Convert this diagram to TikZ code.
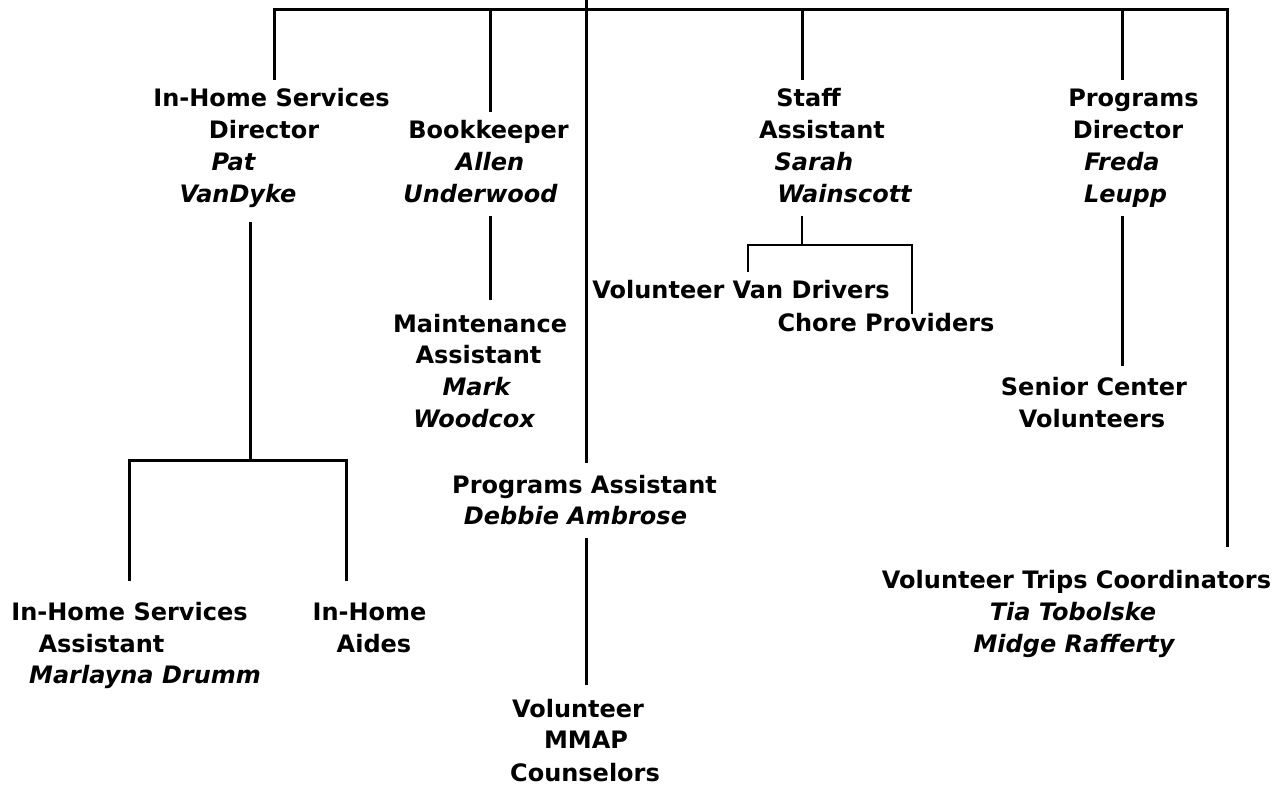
\documentclass[tikz,border=0pt]{standalone}
\usepackage{fontspec}
\setmainfont{DejaVu Sans}
\usepackage{tikz}

\tikzset{
	lbl/.style={anchor=base, font=\fontsize{18pt}{22pt}\selectfont\bfseries, text height=13.6pt, text depth=4.3pt, inner xsep=0pt, inner ysep=6pt},
	who/.style={lbl, font=\fontsize{18pt}{22pt}\selectfont\bfseries\itshape},
	link/.style={line width=2.25pt},
	thin link/.style={line width=1.1pt}
}

\begin{document}
\begin{tikzpicture}[x=0.75pt, y=-0.75pt]
	\useasboundingbox (0,0) rectangle (1276,786);

	\coordinate (jA) at (274,9);
	\coordinate (jB) at (490,9);
	\coordinate (ctr) at (586,0);
	\coordinate (jD) at (802,9);
	\coordinate (jE) at (1122,9);
	\coordinate (jR) at (1227,9);
	\coordinate (ihsM) at (250,460);
	\coordinate (ihsR) at (346,460);
	\coordinate (staffM) at (802,245);
	\coordinate (staffL) at (748,245);
	\coordinate (staffR) at (912,245);

	\node[lbl] (ihd1) at (271.5,106) {In-Home Services};
	\node[lbl] (ihd2) at (264,138) {Director};
	\node[who] (ihd3) at (233.5,170) {Pat};
	\node[who, outer ysep=5pt] (ihd4) at (238,202) {VanDyke};

	\node[lbl] (bk1) at (488.5,138) {Bookkeeper};
	\node[who] (bk2) at (490,170) {Allen};
	\node[who] (bk3) at (480.5,202) {Underwood};

	\node[lbl] (sa1) at (808.5,106) {Staff};
	\node[lbl] (sa2) at (822,138) {Assistant};
	\node[who] (sa3) at (814,170) {Sarah};
	\node[who] (sa4) at (844.5,202) {Wainscott};

	\node[lbl] (pd1) at (1133.5,106) {Programs};
	\node[lbl] (pd2) at (1128,138) {Director};
	\node[who] (pd3) at (1122,170) {Freda};
	\node[who] (pd4) at (1125.5,202) {Leupp};

	\node[lbl, outer ysep=4.5pt] (ma1) at (480,332) {Maintenance};
	\node[lbl] (ma2) at (478.5,363) {Assistant};
	\node[who] (ma3) at (476.5,395) {Mark};
	\node[who] (ma4) at (474,427) {Woodcox};

	\node[lbl] (vvd) at (741,298) {Volunteer Van Drivers};
	\node[lbl, outer ysep=-7pt] (chp) at (886,331) {Chore Providers};

	\node[lbl, outer ysep=2pt] (sc1) at (1094,395) {Senior Center};
	\node[lbl] (sc2) at (1092,427) {Volunteers};

	\node[lbl, outer ysep=3pt] (pa1) at (584.5,493) {Programs Assistant};
	\node[who] (pa2) at (575.5,524) {Debbie Ambrose};

	\node[lbl, outer ysep=4.5pt] (mm1) at (578,717) {Volunteer};
	\node[lbl] (mm2) at (586,748) {MMAP};
	\node[lbl] (mm3) at (585,781) {Counselors};

	\node[lbl, outer ysep=10pt] (ihsa1) at (129.5,620) {In-Home Services};
	\node[lbl] (ihsa2) at (101.5,652) {Assistant};
	\node[who] (ihsa3) at (145,683) {Marlayna Drumm};

	\node[lbl, outer ysep=10pt] (aid1) at (369.5,620) {In-Home};
	\node[lbl] (aid2) at (374,652) {Aides};

	\node[lbl, outer ysep=11pt] (vtc1) at (1076.5,588) {Volunteer Trips Coordinators};
	\node[who] (vtc2) at (1073,620) {Tia Tobolske};
	\node[who] (vtc3) at (1074,652) {Midge Rafferty};

	\draw[link] (jA |- ihd1.north) -- (jA) -- (jR) -- (jR |- vtc1.north);
	\draw[link] (jB) -- (jB |- bk1.north);
	\draw[link] (jD) -- (jD |- sa1.north);
	\draw[link] (jE) -- (jE |- pd1.north);
	\draw[link] (ctr) -- (ctr |- pa1.north);

	\draw[link] (ihd4.south -| ihsM) -- (ihsM);
	\draw[link] (ihsa1.north) |- (ihsR) -- (ihsR |- aid1.north);
	\draw[link] (bk3.south -| jB) -- (jB |- ma1.north);
	\draw[link] (pd4.south -| jE) -- (jE |- sc1.north);
	\draw[link] (pa2.south -| ctr) -- (ctr |- mm1.north);

	\draw[thin link] (sa4.south -| jD) -- (staffM);
	\draw[thin link] (staffL |- vvd.north) |- (staffR) -- (staffR |- chp.north);
\end{tikzpicture}
\end{document}
